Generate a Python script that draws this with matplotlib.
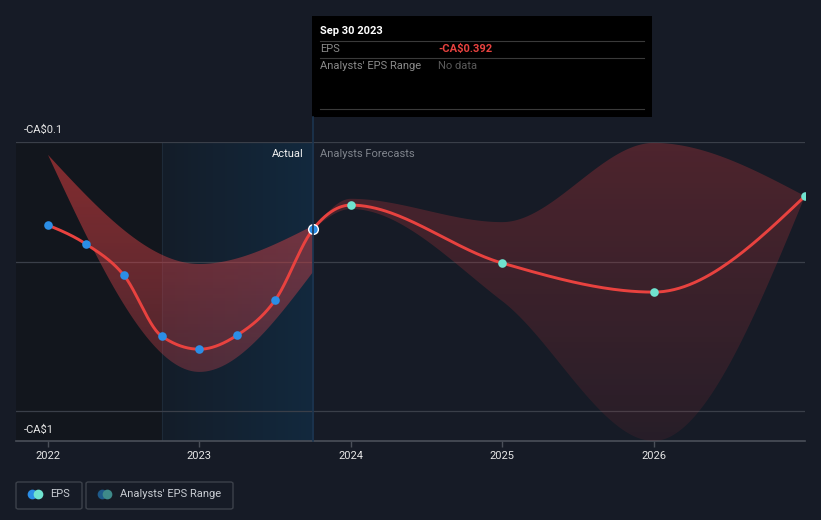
import numpy as np
import matplotlib
matplotlib.use("Agg")
import matplotlib.pyplot as plt
from matplotlib.patches import Polygon, Rectangle, FancyBboxPatch
from matplotlib.lines import Line2D

plt.rcParams['font.family'] = ['Roboto', 'DejaVu Sans']

# ---------------- data ----------------
actual_dates = [2022.0, 2022.25, 2022.5, 2022.75, 2023.0, 2023.25, 2023.5, 2023.75]
actual_eps = [-0.378, -0.441, -0.545, -0.749, -0.793, -0.746, -0.629, -0.392]
actual_range_dates = [2022.0, 2023.0, 2023.75]
actual_range_high = [-0.143, -0.508, -0.380]
actual_range_low = [-0.143, -0.869, -0.535]

forecast_dates = [2024.0, 2025.0, 2026.0, 2027.0]
forecast_eps = [-0.311, -0.505, -0.602, -0.281]
range_dates = [2023.75, 2024.0, 2025.0, 2026.0, 2027.0]
forecast_range_high = [-0.392, -0.290, -0.368, -0.103, -0.281]
forecast_range_low = [-0.392, -0.324, -0.632, -1.100, -0.281]

year_ticks = [2022, 2023, 2024, 2025, 2026]
year_labels = ["2022", "2023", "2024", "2025", "2026"]
y_gridlines = [-0.1, -0.5, -1.0]

W, H = 821, 520
BG = '#161b26'
RED = '#e8423f'
BLUE = '#2b8ee6'
TEAL = '#6fe3cf'


def monotone(x, y, n=60):
    x = np.asarray(x, float); y = np.asarray(y, float)
    h = np.diff(x); d = np.diff(y) / h
    m = np.zeros_like(y)
    for k in range(1, len(y) - 1):
        s0, s1 = d[k - 1], d[k]
        if s0 * s1 <= 0:
            m[k] = 0.0
        else:
            p = (s0 * h[k] + s1 * h[k - 1]) / (h[k - 1] + h[k])
            m[k] = (np.sign(s0) + np.sign(s1)) * min(abs(s0), abs(s1), 0.5 * abs(p))
    if len(y) > 2:
        m[0] = (3 * d[0] - m[1]) / 2
        m[-1] = (3 * d[-1] - m[-2]) / 2
    else:
        m[0] = m[-1] = d[0]
    xs, ys = [], []
    for k in range(len(h)):
        t = np.linspace(0, 1, n, endpoint=(k == len(h) - 1))
        h00 = 2 * t**3 - 3 * t**2 + 1
        h10 = t**3 - 2 * t**2 + t
        h01 = -2 * t**3 + 3 * t**2
        h11 = t**3 - t**2
        xs.append(x[k] + t * h[k])
        ys.append(h00 * y[k] + h10 * h[k] * m[k] + h01 * y[k + 1] + h11 * h[k] * m[k + 1])
    return np.concatenate(xs), np.concatenate(ys)


fig = plt.figure(figsize=(W / 100, H / 100), dpi=100, facecolor=BG)
x_left = 2022.0 - 32 / 151.4
ax = fig.add_axes([16 / W, 1 - 441 / H, (805 - 16) / W, (441 - 142) / H])
ax.set_facecolor(BG)
for s in ax.spines.values():
    s.set_visible(False)

# regions
ax.axvspan(x_left, 2022.75, color='#12161d', zorder=0, lw=0)
grad = np.zeros((1, 256, 4))
c0 = np.array([0x14, 0x1d, 0x29]) / 255
c1 = np.array([0x12, 0x29, 0x3e]) / 255
for i in range(256):
    t = i / 255
    grad[0, i, :3] = c0 * (1 - t) + c1 * t
    grad[0, i, 3] = 1
ax.imshow(grad, extent=[2022.75, 2023.75, -1.1, -0.1], aspect='auto', zorder=0.5, interpolation='bilinear')
ax.plot([2022.75, 2022.75], [-1.1, -0.1], color='#1d2a38', lw=0.8, zorder=0.6)

# gridlines
for g in y_gridlines:
    ax.axhline(g, color='#3a3f49', lw=0.9, zorder=1)
ax.axhline(-1.1, color='#4a4f59', lw=1.2, zorder=1, clip_on=False)


def gradient_band(xd, lo, hi, top_rgba, bot_rgba, z):
    xa, ya = monotone(xd, hi)
    xb, yb = monotone(xd, lo)
    verts = np.vstack([np.column_stack([xa, ya]), np.column_stack([xb[::-1], yb[::-1]])])
    poly = Polygon(verts, closed=True, facecolor='none', edgecolor='none')
    ax.add_patch(poly)
    g = np.zeros((256, 1, 4))
    for i in range(256):
        t = i / 255
        g[i, 0] = np.array(top_rgba) * (1 - t) + np.array(bot_rgba) * t
    im = ax.imshow(g, extent=[xd[0], xd[-1], -1.1, -0.1], aspect='auto', zorder=z,
                   interpolation='bilinear', origin='upper')
    im.set_clip_path(poly)


gradient_band(actual_range_dates, actual_range_low, actual_range_high,
              (0.86, 0.24, 0.24, 0.58), (0.86, 0.30, 0.35, 0.22), 2)
gradient_band(range_dates, forecast_range_low, forecast_range_high,
              (0.78, 0.22, 0.24, 0.32), (0.78, 0.22, 0.24, 0.10), 2)
ax.set_xlim(x_left, 2027.0)
ax.set_ylim(-1.1, -0.1)

# main line
all_dates = actual_dates + forecast_dates
all_eps = actual_eps + forecast_eps
lx, ly = monotone(all_dates, all_eps)
ax.plot(lx, ly, color=RED, lw=2.1, zorder=3, solid_capstyle='round')
ax.plot(actual_dates[:-1], actual_eps[:-1], 'o', color=BLUE, ms=6.2, mew=0, zorder=4)
ax.plot(actual_dates[-1:], actual_eps[-1:], 'o', color=BLUE, ms=7, mec='white', mew=1.0, zorder=4)
ax.plot(forecast_dates, forecast_eps, 'o', color=TEAL, ms=6.2, mew=0, zorder=4)

# ticks
ax.set_yticks([])
ax.set_xticks(year_ticks)
ax.set_xticklabels(year_labels)
ax.tick_params(axis='x', colors='#4a4f59', length=4, width=1, pad=3, labelsize=8, labelcolor='#e6e6e6')

# y labels
fig.text(24 / W, 1 - 130 / H, "-CA\\$0.1", color='#e6e6e6', fontsize=8, va='center', ha='left')
fig.text(24 / W, 1 - 430 / H, "-CA\\$1", color='#e6e6e6', fontsize=8, va='center', ha='left')

# Actual / forecasts labels
ax.text(2023.75 - 9 / 151.4, -0.1 - 12 / 298.9, "Actual", color='#f0f0f0', fontsize=8, ha='right', va='center', zorder=5)
ax.text(2023.75 + 7 / 151.4, -0.1 - 12 / 298.9, "Analysts Forecasts", color='#7f848c', fontsize=8, ha='left', va='center', zorder=5)

# vertical marker line
fig.add_artist(Line2D([313 / W, 313 / W], [1 - 117 / H, 1 - 441 / H], color='#1c3550', lw=1.2))

# tooltip
fig.add_artist(Rectangle((312 / W, 1 - 117 / H), (652 - 312) / W, (117 - 16) / H, facecolor='#000000', edgecolor='none'))
fig.text(320 / W, 1 - 31 / H, "Sep 30 2023", color='white', fontsize=8, fontweight='bold', va='center')
for yy in (41, 58, 109):
    fig.add_artist(Line2D([320 / W, 644 / W], [1 - yy / H, 1 - yy / H], color='#3a3a3a', lw=0.8))
fig.text(320 / W, 1 - 49 / H, "EPS", color='#8a8a8a', fontsize=8, va='center')
fig.text(438 / W, 1 - 49 / H, "-CA\\$0.392", color=RED, fontsize=8, fontweight='bold', va='center')
fig.text(320 / W, 1 - 66 / H, "Analysts' EPS Range", color='#8a8a8a', fontsize=8, va='center')
fig.text(438 / W, 1 - 66 / H, "No data", color='#5a5a5a', fontsize=8, va='center')

# legend
def box(x0, x1):
    fig.add_artist(FancyBboxPatch((x0 / W, 1 - 509 / H), (x1 - x0) / W, 27 / H,
                                  boxstyle='round,pad=0,rounding_size=0.003',
                                  facecolor='none', edgecolor='#3c414a', lw=1.0))

box(16, 82)
box(86, 233)
fig.add_artist(Line2D([32 / W], [1 - 494 / H], marker='o', ms=7, color=BLUE, mew=0))
fig.add_artist(Line2D([38 / W], [1 - 494 / H], marker='o', ms=7, color=TEAL, mew=0))
fig.text(50 / W, 1 - 494 / H, "EPS", color='#c8ccd2', fontsize=8, va='center')
fig.add_artist(Line2D([102 / W], [1 - 494 / H], marker='o', ms=7, color='#1e5a8a', mew=0))
fig.add_artist(Line2D([107 / W], [1 - 494 / H], marker='o', ms=7, color='#3e8a8a', mew=0))
fig.text(120 / W, 1 - 494 / H, "Analysts' EPS Range", color='#c8ccd2', fontsize=8, va='center')

fig.savefig('out.png', dpi=100, facecolor=BG)
